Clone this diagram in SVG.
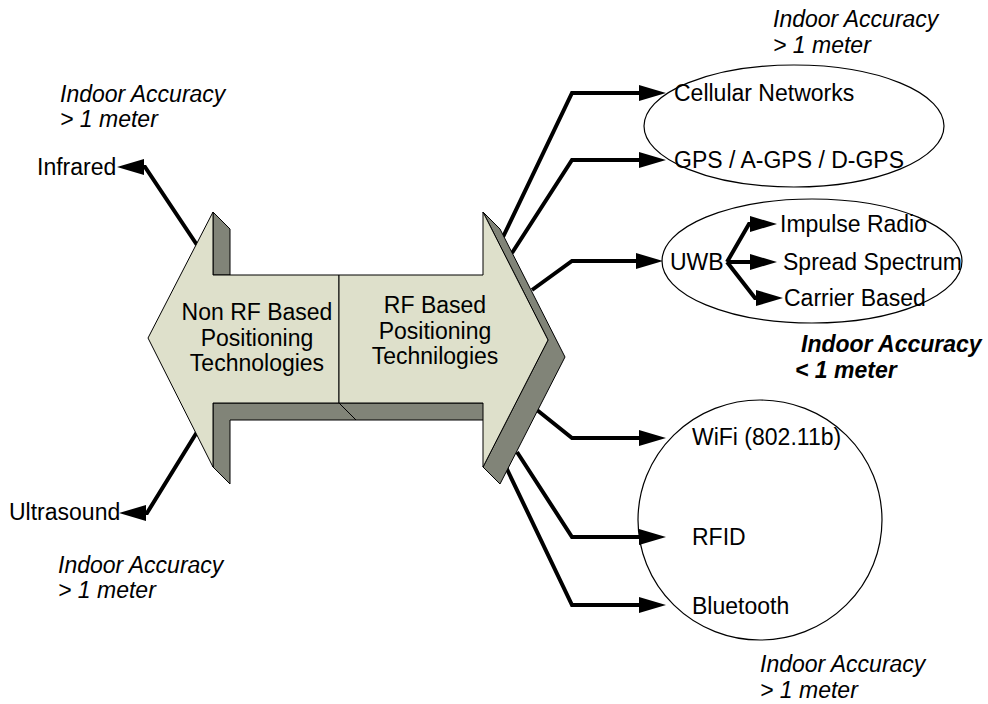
<svg xmlns="http://www.w3.org/2000/svg" width="988" height="704" viewBox="0 0 988 704">
<style>
text{font-family:"Liberation Sans",Arial,sans-serif;font-size:23px;fill:#000}
.it{font-style:italic}
.bi{font-style:italic;font-weight:bold}
.mid{text-anchor:middle}
.con{fill:none;stroke:#000;stroke-width:4;stroke-linejoin:miter}
.ell{fill:none;stroke:#000;stroke-width:1.2}
.face{fill:#DEE0CB;stroke:#000;stroke-width:1}
.side{fill:#818478;stroke:#000;stroke-width:1}
</style>
<defs>
<marker id="ah" markerUnits="userSpaceOnUse" markerWidth="27" markerHeight="17" refX="0" refY="8" orient="auto" overflow="visible">
<path d="M0,0 L27,8 L0,16 Z" fill="#000"/>
</marker>
</defs>
<g id="connectors">
<path class="con" d="M197,245 L145,167 L144,167" marker-end="url(#ah)"/>
<path class="con" d="M197,432 L147,513 L146,513" marker-end="url(#ah)"/>
<path class="con" d="M503,237 L572,93 L639,93" marker-end="url(#ah)"/>
<path class="con" d="M512,253 L572,160 L639,160" marker-end="url(#ah)"/>
<path class="con" d="M532,290 L572,261 L636,261" marker-end="url(#ah)"/>
<path class="con" d="M537,410 L572,438 L639,438" marker-end="url(#ah)"/>
<path class="con" d="M517,452 L572,537 L639,537" marker-end="url(#ah)"/>
<path class="con" d="M505,465 L572,605 L639,605" marker-end="url(#ah)"/>
<path class="con" d="M727,262 L749,224 L750,224" marker-end="url(#ah)"/>
<path class="con" d="M727,262 L750,262" marker-end="url(#ah)"/>
<path class="con" d="M727,262 L755,298 L756,298" marker-end="url(#ah)"/>
</g>
<g id="big-arrow">
<polygon class="side" points="213,212 230,229 230,275 213,275"/>
<polygon class="side" points="213,403 339,403 356,420 230,420 230,484 213,467"/>
<polygon class="side" points="339,403 483,403 500,420 356,420"/>
<polygon class="side" points="483,212 500,229 565,357 500,484 483,467 548,340"/>
<g id="non-rf">
<polygon class="face" points="148,338 213,212 213,275 339,275 339,403 213,403 213,467"/>
<text class="mid" x="257" y="320">Non RF Based</text>
<text class="mid" x="257" y="346">Positioning</text>
<text class="mid" x="257" y="371">Technologies</text>
</g>
<g id="rf">
<polygon class="face" points="339,275 483,275 483,212 548,340 483,467 483,403 339,403"/>
<text class="mid" x="435" y="313">RF Based</text>
<text class="mid" x="435" y="339">Positioning</text>
<text class="mid" x="435" y="364">Technilogies</text>
</g>
</g>
<g id="infrared">
<text x="37" y="175">Infrared</text>
</g>
<g id="ultrasound">
<text x="9" y="520">Ultrasound</text>
</g>
<g id="acc-left-top">
<text class="it" x="60" y="102">Indoor Accuracy</text>
<text class="it" x="60" y="127">&gt; 1 meter</text>
</g>
<g id="acc-left-bottom">
<text class="it" x="58" y="573">Indoor Accuracy</text>
<text class="it" x="58" y="598">&gt; 1 meter</text>
</g>
<g id="cellular-gps">
<ellipse class="ell" cx="794" cy="126" rx="150" ry="61"/>
<text x="674" y="101">Cellular Networks</text>
<text x="674" y="168">GPS / A-GPS / D-GPS</text>
</g>
<g id="acc-right-top">
<text class="it" x="773" y="27">Indoor Accuracy</text>
<text class="it" x="773" y="53">&gt; 1 meter</text>
</g>
<g id="uwb">
<ellipse class="ell" cx="812" cy="261" rx="150" ry="62"/>
<text x="670" y="270">UWB</text>
<text x="780" y="232">Impulse Radio</text>
<text x="783" y="270">Spread Spectrum</text>
<text x="784" y="306">Carrier Based</text>
</g>
<g id="acc-uwb">
<text class="bi" x="801" y="352">Indoor Accuracy</text>
<text class="bi" x="795" y="378">&lt; 1 meter</text>
</g>
<g id="wireless">
<ellipse class="ell" cx="760" cy="520" rx="122" ry="120"/>
<text x="692" y="445">WiFi (802.11b)</text>
<text x="692" y="545">RFID</text>
<text x="692" y="614">Bluetooth</text>
</g>
<g id="acc-right-bottom">
<text class="it" x="760" y="672">Indoor Accuracy</text>
<text class="it" x="760" y="698">&gt; 1 meter</text>
</g>
</svg>
